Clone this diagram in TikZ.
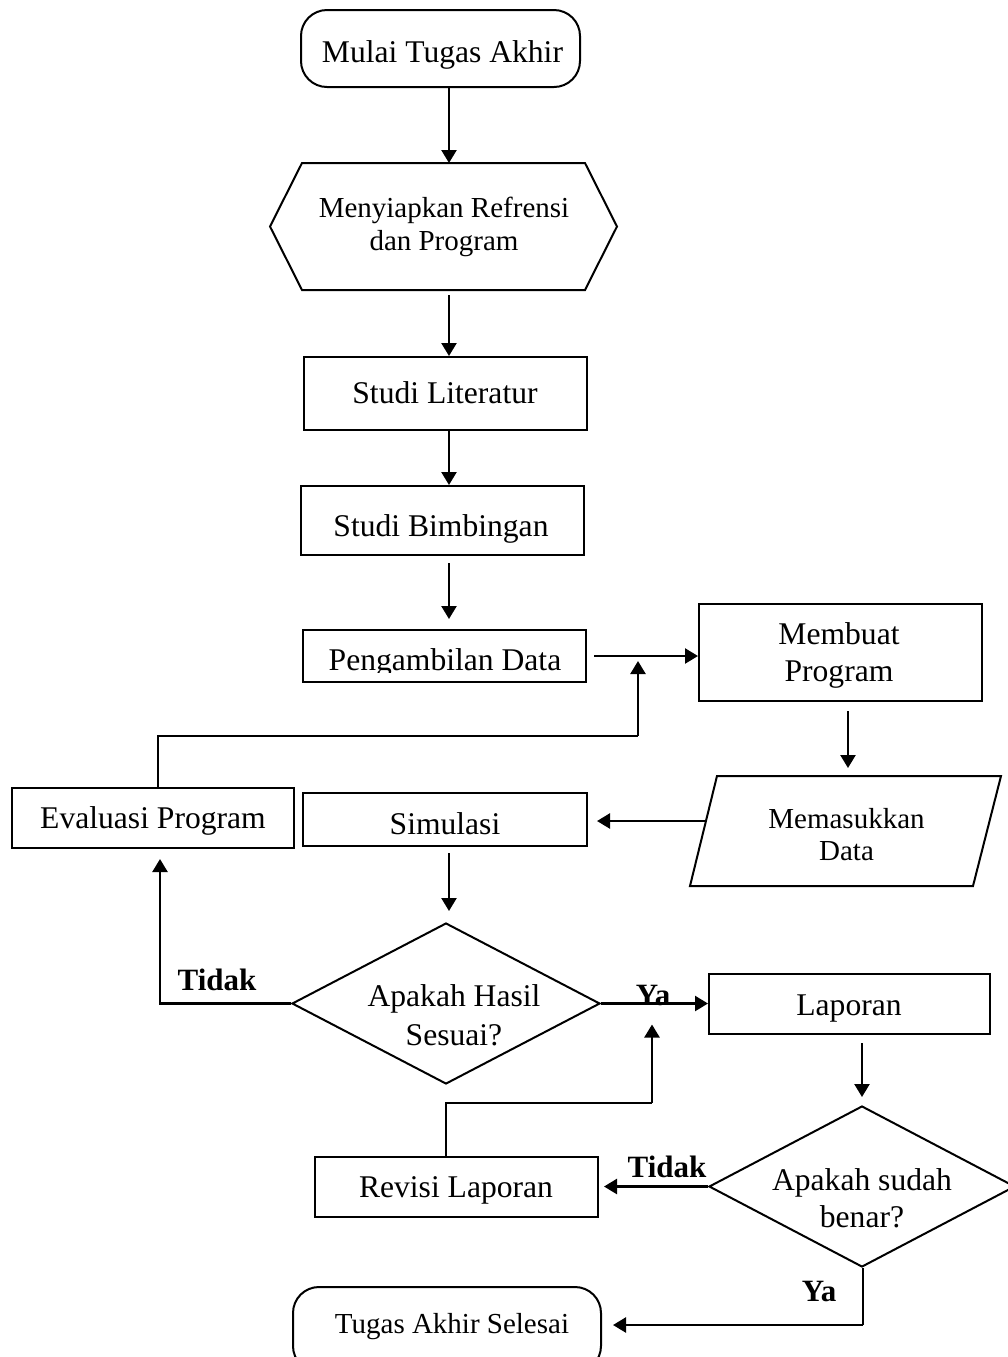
\documentclass[tikz,border=0pt]{standalone}
\usepackage{fontspec}
\setmainfont{Liberation Serif}
\usetikzlibrary{arrows.meta,shapes.geometric,calc}

% two centred lines; the node's base anchor sits on the first baseline
\newcommand{\twoline}[2]{\begin{tabular}[t]{@{}c@{}}#1\\#2\end{tabular}}

\tikzset{
  outline/.style={draw, line width=1pt},
  proc/.style={outline, rectangle, inner sep=0pt},
  term/.style={outline, rectangle, rounded corners=13pt, inner sep=0pt},
  decide/.style={outline, diamond, inner sep=0pt},
  ghost/.style={rectangle, inner sep=0pt, outer sep=0pt},
  main/.style={font=\fontsize{15.8}{18.5}\selectfont, anchor=base, inner sep=0pt},
  small/.style={font=\fontsize{14.5}{16.5}\selectfont, anchor=base, inner sep=0pt},
  lbl/.style={font=\fontsize{15.5}{18}\selectfont\bfseries, anchor=base, inner sep=0pt},
  arr/.style={line width=1.2pt, -{Triangle[length=6.5pt,width=7.5pt]}},
  link/.style={line width=0.6pt},
}

\begin{document}
\begin{tikzpicture}[x=0.5pt, y=-0.5pt]
\useasboundingbox (0,0) rectangle (1008,1357);
\clip (0,0) rectangle (1008,1357);

% ---- shapes ----
\node[term, minimum width=139.5pt, minimum height=38.5pt] (start) at (440.5,48.5) {};
\node[ghost, minimum width=173.5pt, minimum height=63.5pt] (ref) at (443.5,226.5) {};
\draw[outline] ($(ref.north west)+(32,0)$) -- ($(ref.north east)+(-32,0)$) -- (ref.east)
  -- ($(ref.south east)+(-32,0)$) -- ($(ref.south west)+(32,0)$) -- (ref.west) -- cycle;
\node[proc, minimum width=141.5pt, minimum height=36.5pt] (lit) at (445.5,393.5) {};
\node[proc, minimum width=141.5pt, minimum height=34.5pt] (bim) at (442.5,520.5) {};
\node[proc, minimum width=141.5pt, minimum height=26pt] (peng) at (444.5,656) {};
\node[proc, minimum width=141.5pt, minimum height=48.5pt] (mp) at (840.5,652.5) {};
\node[ghost, minimum width=155.5pt, minimum height=55pt] (mem) at (845.5,831) {};
\draw[outline] ($(mem.north west)+(27,0)$) -- (mem.north east)
  -- ($(mem.south east)+(-28,0)$) -- (mem.south west) -- cycle;
\node[proc, minimum width=142pt, minimum height=26.5pt] (sim) at (445,819.5) {};
\node[proc, minimum width=141pt, minimum height=30pt] (eval) at (153,818) {};
\node[decide, minimum width=154pt, minimum height=80.5pt] (d1) at (446,1003.5) {};
\node[proc, minimum width=140.5pt, minimum height=30pt] (lap) at (849.5,1004) {};
\node[decide, minimum width=153pt, minimum height=80.5pt] (d2) at (862,1186.5) {};
\node[proc, minimum width=141.5pt, minimum height=30pt] (rev) at (456.5,1187) {};
\node[term, minimum width=154pt, minimum height=42.5pt] (endn) at (447,1329.5) {};

% ---- texts ----
\node[main] (t-start) at (442.5,62) {Mulai Tugas Akhir};
\node[small] (t-ref) at (444,217) {\twoline{Menyiapkan Refrensi}{dan Program}};
\node[main] (t-lit) at (445,403) {Studi Literatur};
\node[main] (t-bim) at (441,536) {Studi Bimbingan};
\begin{scope}
  \clip (303,630) rectangle (586,672);
  \node[main] (t-peng) at (445,670) {Pengambilan Data};
\end{scope}
\node[main] (t-mp) at (839,644) {\twoline{Membuat}{Program}};
\node[small, font=\fontsize{14.5}{16}\selectfont] (t-mem) at (846.5,828) {\twoline{Memasukkan}{Data}};
\node[main] (t-sim) at (445,834) {Simulasi};
\node[main] (t-eval) at (153,828) {Evaluasi Program};
\node[main, font=\fontsize{15.8}{19.5}\selectfont] (t-d1) at (454,1006) {\twoline{Apakah Hasil}{Sesuai?}};
\node[main] (t-lap) at (849,1015) {Laporan};
\node[main] (t-d2) at (862,1190) {\twoline{Apakah sudah}{benar?}};
\node[main] (t-rev) at (456,1197) {Revisi Laporan};
\node[small] (t-end) at (452,1333) {Tugas Akhir Selesai};

\node[lbl] (l-no1) at (217,990) {Tidak};
\node[lbl] (l-yes1) at (653,1005) {Ya};
\node[lbl] (l-no2) at (667,1177) {Tidak};
\node[lbl] (l-yes2) at (819,1301) {Ya};

% ---- connectors ----
\coordinate (c1) at (449,0);
\coordinate (c2) at (848,0);
\coordinate (c3) at (160,0);
\coordinate (fb1) at (638,736);
\coordinate (fb2) at (652,1103);
\coordinate (memW) at ($(mem.west)+(16,-10)$);
\coordinate (yaTurn) at (863,1325);

\draw[arr] (start.south -| c1) -- (ref.north -| c1);
\draw[arr, shorten <=2.5pt] (ref.south -| c1) -- (lit.north -| c1);
\draw[arr] (lit.south -| c1) -- (bim.north -| c1);
\draw[arr, shorten <=3.5pt, shorten >=5pt] (bim.south -| c1) -- (peng.north -| c1);
\draw[arr, shorten <=3.5pt] (peng.east) -- (peng.east -| mp.west);

\draw[link] ($(eval.north)+(5,0)$) |- (fb1);
\draw[arr, shorten >=2.5pt] (fb1) -- (fb1 |- peng.east);

\draw[arr, shorten <=4.5pt, shorten >=4pt] (mp.south -| c2) -- (mem.north -| c2);
\draw[arr, shorten >=4.5pt] (memW) -- (sim.east |- memW);
\draw[arr, shorten <=3pt, shorten >=5.5pt] (sim.south -| c1) -- (d1.north -| c1);

\draw[arr, shorten >=5pt] (d1.west) -| (eval.south -| c3);
\draw[arr] (d1.east) -- (d1.east -| lap.west);
\draw[arr, shorten <=4pt, shorten >=4pt] (lap.south -| d2.north) -- (d2.north);
\draw[arr, shorten >=2.5pt] (d2.west) -- (d2.west -| rev.east);

\draw[link] (rev.north -| d1.south) |- (fb2);
\draw[arr, shorten >=10.5pt] (fb2) -- (fb2 |- d1.east);

\draw[link] (d2.south -| yaTurn) -- (yaTurn);
\draw[arr, shorten >=5.5pt] (yaTurn) -- (yaTurn -| endn.east);
\end{tikzpicture}
\end{document}
